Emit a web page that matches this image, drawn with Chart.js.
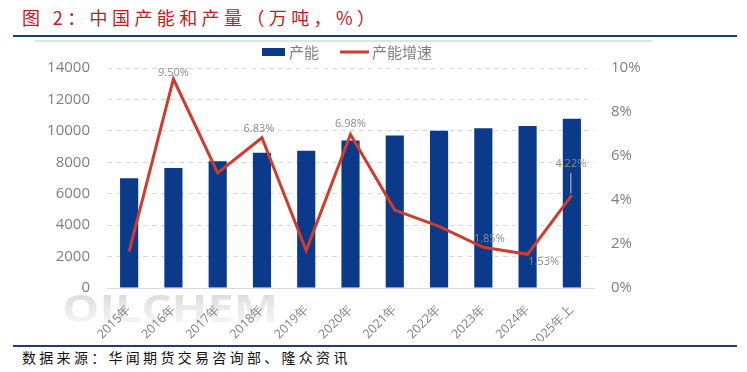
<!DOCTYPE html>
<html>
<head>
<meta charset="utf-8">
<script src="https://cdn.jsdelivr.net/npm/chart.js@4/dist/chart.umd.min.js"></script>
<style>
  html, body { margin: 0; padding: 0; background: #fff; }
  body { width: 747px; height: 372px; position: relative; overflow: hidden; font-family: "Noto Sans CJK SC", sans-serif; }
  #title { position: absolute; left: 22px; top: 4px; font-size: 18px; color: #c0201c; letter-spacing: 4.4px; white-space: nowrap; line-height: 26px; }
  .rule { position: absolute; left: 13px; width: 724px; height: 2px; background: #1f3b78; }
  #footer { position: absolute; left: 22px; top: 346px; font-size: 14px; color: #111; letter-spacing: 3.3px; white-space: nowrap; line-height: 22px; }
  #wrap { position: absolute; left: 35px; top: 40px; width: 617px; height: 299px; border-top: 2px solid #dde1ea; }
</style>
</head>
<body>
<div id="title">图 2：中国产能和产量（万吨，%）</div>
<div class="rule" style="top:35px"></div>
<div id="wrap"><canvas id="c" width="617" height="299"></canvas></div>
<div class="rule" style="top:345px"></div>
<div id="footer">数据来源：华闻期货交易咨询部、隆众资讯</div>
<script>
const categories = ['2015年','2016年','2017年','2018年','2019年','2020年','2021年','2022年','2023年','2024年','2025年上'];
const capacity = [6980, 7640, 8060, 8600, 8740, 9380, 9700, 10010, 10160, 10310, 10770];
const capacityGrowth = [1.65, 9.50, 5.23, 6.83, 1.70, 6.98, 3.54, 2.80, 1.85, 1.53, 4.22];
const labelledPoints = [1, 3, 5, 8, 9, 10];
const leftTicks = [0, 2000, 4000, 6000, 8000, 10000, 12000, 14000];
const rightTicks = [0, 2, 4, 6, 8, 10];
const seriesNames = ['产能', '产能增速'];

const BLUE = '#0b3a8a';
const RED = '#cf3b2c';
const GRAY = '#7f7f7f';

// label offsets (dx, dy) relative to point, style only
const labelOffsets = { 1: [0, -6], 3: [-3, -9], 5: [0, -11], 8: [6, -8], 9: [16, 8], 10: [-1, -31] };

const customPlugin = {
  id: 'custom',
  beforeInit(chart) {
    const fit = chart.legend.fit;
    chart.legend.fit = function () { fit.bind(this)(); this.height = 24; };
  },
  beforeDraw(chart) {
    const ctx = chart.ctx;
    ctx.save();
    // watermark
    ctx.font = 'bold 38px "Open Sans", sans-serif';
    const txt = 'OILCHEM';
    const w = ctx.measureText(txt).width;
    const target = 216;
    ctx.translate(27, 250);
    ctx.scale(target / w, 1);
    const g = ctx.createLinearGradient(0, 0, 0, 30);
    g.addColorStop(0, 'rgba(205,205,205,0.75)');
    g.addColorStop(1, 'rgba(232,232,232,0.5)');
    ctx.fillStyle = g;
    ctx.textBaseline = 'top';
    ctx.fillText(txt, 0, 0);
    ctx.restore();
  },
  afterDraw(chart) {
    const ctx = chart.ctx;
    ctx.save();
    // legend
    ctx.font = '15px "Noto Sans CJK SC", sans-serif';
    ctx.textBaseline = 'middle';
    ctx.fillStyle = BLUE;
    ctx.fillRect(227, 6, 23, 8);
    ctx.fillStyle = GRAY;
    ctx.fillText(seriesNames[0], 254, 10);
    ctx.strokeStyle = RED;
    ctx.lineWidth = 3;
    ctx.beginPath(); ctx.moveTo(305, 10); ctx.lineTo(334, 10); ctx.stroke();
    ctx.fillStyle = GRAY;
    ctx.fillText(seriesNames[1], 337, 10);
    // data labels
    const meta = chart.getDatasetMeta(1);
    ctx.font = '11px "Open Sans", sans-serif';
    ctx.textAlign = 'center';
    ctx.fillStyle = '#8a8a8a';
    labelledPoints.forEach(i => {
      const p = meta.data[i];
      const off = labelOffsets[i] || [0, -8];
      const x = p.x + off[0], y = p.y + off[1];
      ctx.fillText(capacityGrowth[i].toFixed(2) + '%', x, y);
      if (i === 10) {
        ctx.strokeStyle = '#c8c8c8';
        ctx.lineWidth = 1;
        ctx.beginPath(); ctx.moveTo(p.x - 1, y + 9); ctx.lineTo(p.x - 1, p.y - 2); ctx.stroke();
      }
    });
    ctx.restore();
  }
};

new Chart(document.getElementById('c'), {
  data: {
    labels: categories,
    datasets: [
      { type: 'bar', label: seriesNames[0], data: capacity, backgroundColor: BLUE, yAxisID: 'y', order: 2,
        categoryPercentage: 0.82, barPercentage: 0.5 },
      { type: 'line', label: seriesNames[1], data: capacityGrowth, borderColor: RED, borderWidth: 3,
        pointRadius: 0, tension: 0, yAxisID: 'y1', order: 1, borderJoinStyle: 'miter' }
    ]
  },
  options: {
    responsive: false,
    animation: false,
    layout: { padding: { left: 0, right: 0, top: 0, bottom: 0 } },
    plugins: {
      legend: { display: true, labels: { generateLabels: () => [] } },
      tooltip: { enabled: false }
    },
    scales: {
      x: {
        grid: { display: false },
        border: { display: true, color: '#d9d9d9', width: 1 },
        ticks: { color: GRAY, font: { size: 12.5, family: '"Open Sans", sans-serif' }, maxRotation: 45, minRotation: 45, padding: 6 },
        afterFit(s) { s.height = 53; }
      },
      y: {
        position: 'left', min: 0, max: 14000,
        afterBuildTicks(s) { s.ticks = leftTicks.map(v => ({ value: v })); },
        grid: { color: '#d9d9d9', drawTicks: false, lineWidth: 1 },
        border: { display: false, dash: [5, 4] },
        ticks: { color: GRAY, font: { size: 15, family: '"Open Sans", sans-serif' }, padding: 17, callback: v => String(v) },
        afterFit(s) { s.width = 72; }
      },
      y1: {
        position: 'right', min: 0, max: 10,
        afterBuildTicks(s) { s.ticks = rightTicks.map(v => ({ value: v })); },
        grid: { display: false, drawTicks: false },
        border: { display: false },
        ticks: { color: GRAY, font: { size: 15, family: '"Open Sans", sans-serif' }, padding: 17, callback: v => v + '%' },
        afterFit(s) { s.width = 58; }
      }
    }
  },
  plugins: [customPlugin]
});
</script>
</body>
</html>
